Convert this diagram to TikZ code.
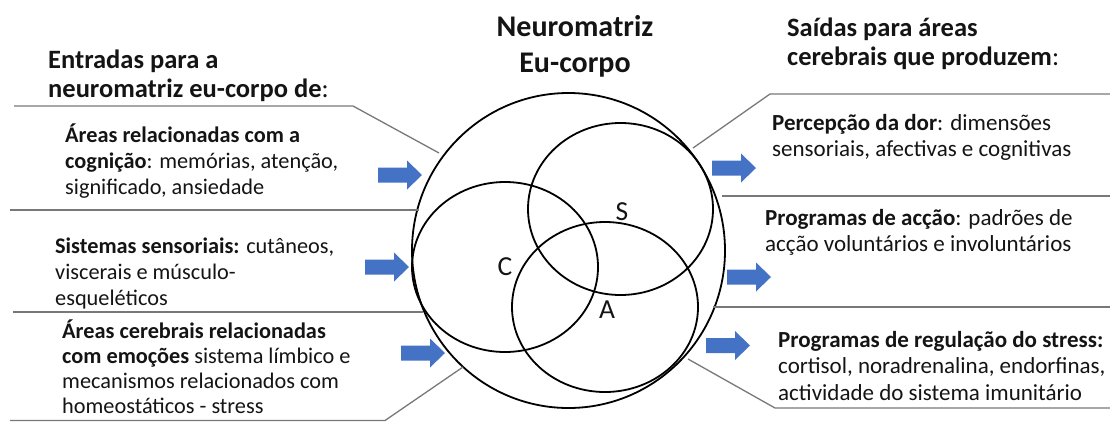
\documentclass[tikz,border=0pt]{standalone}
\usepackage{fontspec}
\setmainfont{Carlito}
\definecolor{arrowblue}{RGB}{68,114,196}
\definecolor{txt}{RGB}{20,20,20}
\definecolor{rule}{RGB}{120,120,120}
\tikzset{
  barrow/.pic={\fill[arrowblue] (0,-7.5) -- (29,-7.5) -- (29,-14.5) -- (44,0) -- (29,14.5) -- (29,7.5) -- (0,7.5) -- cycle;},
  rulel/.style={draw=rule,line width=1.3pt},
  ring/.style={draw=black,line width=1.8pt},
  body/.style={anchor=base west,inner sep=0pt,text=txt,font=\fontsize{22.3}{26}\selectfont},
  bodyr/.style={body,font=\fontsize{23}{26.5}\selectfont},
  head/.style={anchor=base west,inner sep=0pt,text=txt,font=\fontsize{26.5}{29}\selectfont\bfseries},
  letter/.style={inner sep=0pt,text=txt,font=\fontsize{27.5}{30}\selectfont}
}
\begin{document}
\begin{tikzpicture}[x=1pt,y=-1pt]
\useasboundingbox (0,0) rectangle (1110,421);
% circles
\draw[ring] (568.5,250.5) ellipse [x radius=156.5, y radius=157.5];
\draw[ring] (620.5,209) ellipse [x radius=92.5, y radius=86];
\draw[ring] (505,267) ellipse [x radius=93, y radius=85];
\draw[ring] (605,307) ellipse [x radius=93, y radius=85];
\node[letter] (lS) at (622,212) {S};
\node[letter] (lC) at (505,267) {C};
\node[letter] (lA) at (607,310) {A};
% title
\node[anchor=base,inner sep=0pt,text=txt,font=\fontsize{30}{36}\selectfont\bfseries] (title) at (575,36)
  {\begin{tabular}[t]{@{}c@{}}Neuromatriz\\Eu-corpo\end{tabular}};
% left rules
\coordinate (l1a) at (14,106); \coordinate (l1b) at (353,106); \coordinate (l1c) at (439,153);
\draw[rulel] (l1a) -- (l1b) -- (l1c);
\coordinate (l2a) at (10,210); \coordinate (l2b) at (419,210);
\draw[rulel] (l2a) -- (l2b);
\coordinate (l3a) at (13,312); \coordinate (l3b) at (423,312);
\draw[rulel] (l3a) -- (l3b);
\coordinate (l4a) at (10,420.5); \coordinate (l4b) at (385,420.5); \coordinate (l4c) at (463,367);
\draw[rulel] (l4a) -- (l4b) -- (l4c);
% right rules
\coordinate (r1a) at (1110,94); \coordinate (r1b) at (770,94); \coordinate (r1c) at (693,148);
\draw[rulel] (r1a) -- (r1b) -- (r1c);
\coordinate (r2a) at (722,196); \coordinate (r2b) at (1110,196);
\draw[rulel] (r2a) -- (r2b);
\coordinate (r3a) at (713,307); \coordinate (r3b) at (1110,307);
\draw[rulel] (r3a) -- (r3b);
\coordinate (r4a) at (688,359); \coordinate (r4b) at (775,408); \coordinate (r4c) at (1110,408);
\draw[rulel] (r4a) -- (r4b) -- (r4c);
% arrows
\pic at (378,175) {barrow};
\pic at (365,267) {barrow};
\pic at (401,353) {barrow};
\pic at (712,168) {barrow};
\pic at (727,277) {barrow};
\pic at (706,345.5) {barrow};
% left texts
\node[head] (lhead) at (48,68) {\begin{tabular}[t]{@{}l@{}}Entradas para a\\neuromatriz eu-corpo de\textmd{:}\end{tabular}};
\node[body] (lb1) at (65,142) {\begin{tabular}[t]{@{}l@{}}\textbf{Áreas relacionadas com a}\\\textbf{cognição}: memórias, atenção,\\significado, ansiedade\end{tabular}};
\node[body] (lb2) at (55,253) {\begin{tabular}[t]{@{}l@{}}\textbf{Sistemas sensoriais:} cutâneos,\\viscerais e músculo-\\esqueléticos\end{tabular}};
\node[body,font=\fontsize{22.3}{25.3}\selectfont] (lb3) at (62,338) {\begin{tabular}[t]{@{}l@{}}\textbf{Áreas cerebrais relacionadas}\\\textbf{com emoções} sistema límbico e\\mecanismos relacionados com\\homeostáticos - stress\end{tabular}};
% right texts
\node[head] (rhead) at (787,36) {\begin{tabular}[t]{@{}l@{}}Saídas para áreas\\cerebrais que produzem\textmd{:}\end{tabular}};
\node[bodyr] (rb1) at (772,130) {\begin{tabular}[t]{@{}l@{}}\textbf{Percepção da dor}: dimensões\\sensoriais, afectivas e cognitivas\end{tabular}};
\node[bodyr] (rb2) at (765,225) {\begin{tabular}[t]{@{}l@{}}\textbf{Programas de acção}: padrões de\\acção voluntários e involuntários\end{tabular}};
\node[bodyr] (rb3) at (778,347) {\begin{tabular}[t]{@{}l@{}}\textbf{Programas de regulação do stress:}\\cortisol, noradrenalina, endorfinas,\\actividade do sistema imunitário\end{tabular}};
\end{tikzpicture}
\end{document}
